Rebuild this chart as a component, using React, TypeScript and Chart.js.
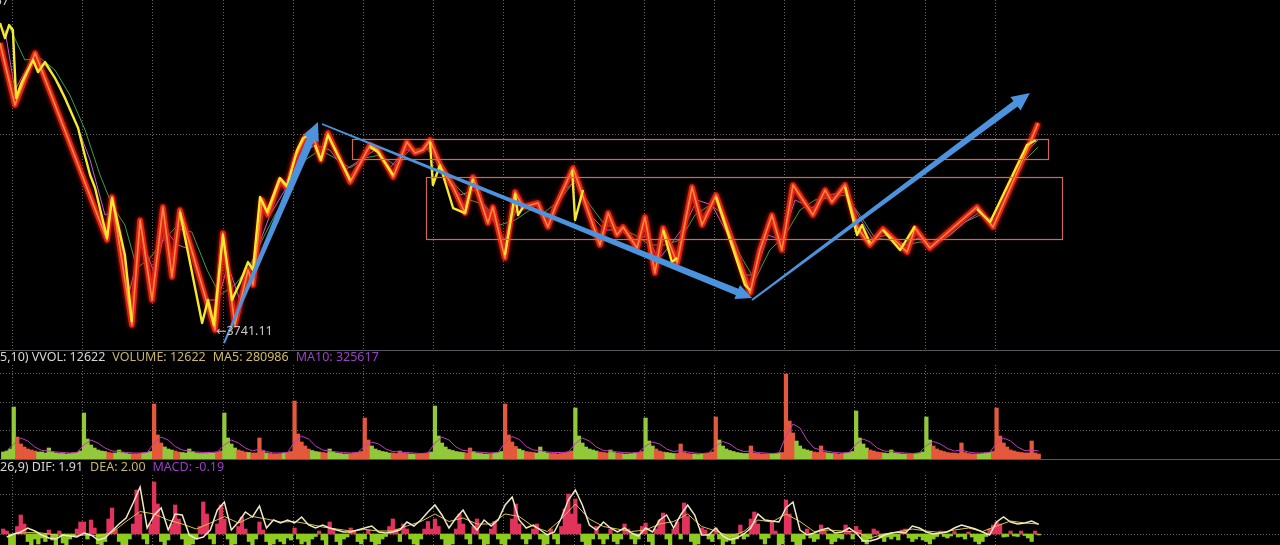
import React, { useEffect, useRef } from 'react';
import { Chart, registerables } from 'chart.js';

Chart.register(...registerables);

// ---------------- DATA ----------------
// x axis: trading minutes counted from the first day boundary (240 minutes per day)
const BAR_MINUTES = 12;
const X_MIN = -41;
const X_MAX = 4335;
const DAY_BOUNDARIES = [0, 240, 480, 720, 960, 1200, 1440, 1680, 1920, 2160, 2400, 2640, 2880, 3120, 3360];

// main price line (zig-zag of the index)
const priceMinutes = [-41, 10, 79, 325, 342, 410, 438, 479, 516, 547, 574, 694, 721, 762, 807, 824, 855, 875, 916, 940, 968, 1002, 1019, 1036, 1056, 1080, 1156, 1224, 1251, 1303, 1350, 1378, 1405, 1429, 1463, 1508, 1549, 1576, 1627, 1644, 1685, 1720, 1747, 1798, 1832, 1856, 1918, 2010, 2038, 2068, 2089, 2137, 2164, 2198, 2226, 2274, 2325, 2359, 2407, 2523, 2557, 2598, 2632, 2670, 2738, 2780, 2803, 2848, 2889, 2933, 2978, 3060, 3087, 3138, 3299, 3354, 3480, 3508];
const priceValues = [3884.6, 3853.6, 3879.6, 3786.1, 3807.6, 3743.6, 3796.1, 3756.1, 3802.6, 3767.6, 3801.1, 3741.1, 3789.6, 3743.6, 3771.1, 3763.6, 3806.1, 3798.6, 3816.1, 3812.1, 3827.1, 3837.6, 3839.6, 3835.1, 3826.1, 3839.6, 3815.1, 3833.6, 3831.1, 3817.6, 3835.1, 3829.6, 3831.1, 3836.1, 3823.6, 3812.6, 3799.6, 3817.6, 3794.6, 3802.6, 3777.1, 3810.1, 3802.6, 3804.6, 3792.6, 3802.1, 3822.1, 3783.6, 3799.6, 3788.6, 3792.6, 3782.1, 3797.6, 3769.6, 3792.1, 3774.6, 3812.6, 3793.6, 3808.6, 3759.6, 3781.1, 3798.6, 3781.1, 3813.6, 3798.6, 3811.1, 3805.1, 3813.6, 3792.6, 3783.6, 3791.6, 3780.1, 3792.1, 3782.1, 3802.6, 3792.6, 3834.6, 3844.6];

// yellow minute line (visible stretches; null = gap)
const yellowMinutes = [
  -41, -24, -10, 3, 14, 34, 72, 89, 113, 147, 181, 226, 246, 267, 284, 325, 342, 386, 410, 500,
  574, 650, 670, 690, 721, 752, 779, 807, 824, 848, 872, 916, 940, 975, 995, 1019, 1028,
  1036, 1056, 1080, 1156, 1190,
  1224, 1251, 1303, 1400,
  1429, 1439, 1463, 1508, 1549, 1576, 1650,
  1685, 1720, 1730, 1747, 1880,
  1915, 1925, 1952, 2200,
  2226, 2256, 2274, 2380,
  2407, 2506, 2523, 2700,
  2848, 2889, 2906, 2933, 2955,
  2978, 3036, 3087, 3200,
  3299, 3344, 3470, 3501,
];
const yellowValues = [
  3894.6, 3887.1, 3893.6, 3891.1, 3857.1, 3865.1, 3876.1, 3870.1, 3875.1, 3867.1, 3857.1, 3842.1, 3830.1, 3818.6, 3812.1, 3787.1, 3807.1, 3778.6, 3745.1, null,
  3800.1, 3744.6, 3756.1, 3743.6, 3788.6, 3756.1, 3764.6, 3775.1, 3771.1, 3807.6, 3800.1, 3817.1, 3813.1, 3831.1, 3837.1, 3838.6, null,
  3833.6, 3826.1, 3838.6, 3816.1, null,
  3832.6, 3830.1, 3818.6, null,
  3835.1, 3813.6, 3823.6, 3802.1, 3799.6, 3816.6, null,
  3778.6, 3809.1, 3798.6, 3802.6, null,
  3821.1, 3796.1, 3811.1, null,
  3791.1, 3775.1, 3777.1, null,
  3807.6, 3763.6, 3761.1, null,
  3812.6, 3788.6, 3793.6, 3784.6, null,
  3791.1, 3781.1, 3793.1, null,
  3801.6, 3795.1, 3833.6, 3836.1,
];

// moving averages of the price
const maGreenMinutes = [-7, 44, 96, 147, 198, 250, 301, 342, 386, 427, 472, 513, 557, 615, 667, 711, 762, 814, 855, 899, 950, 1002, 1053, 1104, 1156, 1207, 1258, 1309, 1361, 1412, 1463, 1515, 1566, 1617, 1668, 1720, 1771, 1822, 1873, 1925, 1976, 2027, 2079, 2130, 2181, 2232, 2284, 2335, 2386, 2438, 2489, 2540, 2591, 2643, 2694, 2745, 2797, 2848, 2899, 2950, 3002, 3053, 3104, 3156, 3207, 3258, 3309, 3361, 3412, 3463, 3508];
const maGreenValues = [3892.1, 3876.1, 3877.1, 3871.1, 3858.6, 3841.1, 3818.6, 3803.6, 3793.6, 3772.1, 3777.1, 3785.1, 3792.1, 3790.1, 3771.1, 3758.6, 3763.6, 3773.6, 3786.1, 3798.6, 3811.1, 3826.1, 3831.1, 3827.1, 3822.1, 3827.1, 3828.6, 3823.6, 3831.1, 3832.1, 3826.1, 3813.6, 3806.1, 3803.6, 3793.6, 3796.1, 3801.1, 3800.1, 3806.1, 3816.1, 3803.6, 3793.6, 3792.1, 3788.6, 3783.6, 3783.6, 3786.1, 3798.6, 3803.6, 3798.6, 3778.6, 3766.1, 3781.1, 3788.6, 3801.1, 3806.1, 3807.1, 3808.6, 3798.6, 3787.1, 3786.1, 3783.6, 3785.1, 3783.6, 3788.6, 3795.1, 3798.6, 3796.1, 3811.1, 3826.1, 3832.6];
const maPurpleMinutes = [-24, 10, 62, 113, 164, 215, 267, 318, 352, 403, 444, 489, 523, 568, 615, 660, 704, 738, 779, 831, 882, 933, 985, 1036, 1087, 1138, 1190, 1241, 1292, 1344, 1395, 1436, 1480, 1532, 1583, 1634, 1685, 1730, 1788, 1839, 1891, 1935, 1976, 2027, 2079, 2130, 2174, 2209, 2250, 2301, 2342, 2393, 2448, 2506, 2540, 2585, 2632, 2677, 2735, 2790, 2848, 2892, 2940, 2995, 3053, 3097, 3145, 3207, 3258, 3309, 3361, 3419, 3474, 3508];
const maPurpleValues = [3891.1, 3861.1, 3875.1, 3873.6, 3863.6, 3846.1, 3826.1, 3798.6, 3801.1, 3761.1, 3786.1, 3768.6, 3791.1, 3783.6, 3781.1, 3756.1, 3756.1, 3773.6, 3756.1, 3778.6, 3798.6, 3811.1, 3828.6, 3833.6, 3831.1, 3821.1, 3826.1, 3831.1, 3822.1, 3831.1, 3831.1, 3832.1, 3818.6, 3808.6, 3811.1, 3798.6, 3786.1, 3803.6, 3801.1, 3797.1, 3811.1, 3817.1, 3798.6, 3791.1, 3791.1, 3786.1, 3788.6, 3776.1, 3783.6, 3793.6, 3806.1, 3803.6, 3788.6, 3768.6, 3768.6, 3788.6, 3786.1, 3806.1, 3802.1, 3808.6, 3810.1, 3798.6, 3787.1, 3788.6, 3783.6, 3787.1, 3784.1, 3788.6, 3795.1, 3800.1, 3795.1, 3816.1, 3831.1, 3836.1];

const PRICE_MIN = 3731.11;
const PRICE_MAX = 3906.11;
const priceGridValues = [3839.1];
const lowMinute = 694;
const lowPrice = 3741.11;
const lowLabel = '←3741.11';
const highLabel = '3894.57';

// drawn annotations (in data units)
const rectStartMinutes = [1162, 1415];
const rectEndMinutes = [3542, 3590];
const rectTopPrices = [3836.6, 3817.6];
const rectBottomPrices = [3826.6, 3786.6];
const arrowTailMinutes = [725, 1060, 2530];
const arrowTailPrices = [3734.6, 3844.1, 3756.1];
const arrowHeadMinutes = [1046, 2530, 3480];
const arrowHeadPrices = [3845.1, 3757.1, 3859.6];

// volume, 12-minute bars, unit 10k; first value is bar index -3 (end of previous day)
const VOL_FIRST_BAR = -3;
const volume = [
  14, 16, 20,
  104, 44, 30, 24, 20, 18, 16, 14, 14, 12, 22, 14, 12, 11, 11, 10, 11, 12, 13, 16,
  92, 40, 28, 22, 18, 16, 15, 13, 12, 12, 18, 13, 11, 10, 10, 10, 11, 12, 13, 15,
  110, 48, 32, 24, 20, 18, 16, 14, 13, 12, 20, 14, 12, 11, 11, 11, 12, 12, 14, 16,
  92, 42, 30, 22, 18, 16, 14, 13, 12, 12, 42, 16, 12, 11, 10, 10, 11, 12, 13, 15,
  116, 50, 34, 26, 20, 17, 15, 14, 13, 12, 20, 14, 12, 11, 10, 10, 11, 12, 13, 15,
  82, 38, 26, 20, 17, 15, 14, 12, 12, 11, 16, 12, 11, 10, 10, 10, 10, 11, 12, 14,
  106, 46, 32, 24, 19, 17, 15, 14, 13, 12, 22, 14, 12, 11, 10, 10, 11, 12, 13, 15,
  110, 48, 34, 25, 20, 17, 15, 14, 13, 12, 24, 14, 12, 11, 11, 10, 11, 12, 14, 16,
  102, 46, 32, 24, 20, 18, 16, 14, 13, 12, 18, 13, 12, 11, 10, 10, 11, 12, 13, 15,
  82, 36, 26, 20, 16, 14, 13, 12, 11, 11, 30, 13, 11, 10, 10, 9, 10, 11, 12, 14,
  84, 38, 26, 20, 17, 15, 13, 12, 11, 11, 26, 12, 11, 10, 10, 10, 10, 11, 12, 13,
  170, 76, 52, 36, 26, 20, 18, 16, 14, 13, 26, 14, 12, 11, 11, 10, 11, 12, 13, 15,
  96, 42, 30, 22, 18, 16, 14, 13, 12, 11, 18, 12, 11, 10, 10, 10, 10, 11, 12, 14,
  84, 38, 26, 20, 17, 15, 13, 12, 12, 11, 32, 13, 11, 10, 10, 10, 11, 12, 13, 15,
  102, 46, 32, 24, 18, 16, 14, 13, 12, 12, 36, 12, 10,
];
// volume moving average, every second bar, first value at bar -2
const VOLMA_FIRST_BAR = -2;
const volumeMA = [
  16,
  30, 42, 36, 24, 17, 16, 14, 13, 12, 13,
  28, 38, 32, 22, 16, 15, 13, 12, 12, 13,
  32, 44, 38, 25, 18, 16, 14, 13, 13, 14,
  28, 38, 32, 22, 16, 20, 15, 12, 12, 13,
  34, 46, 40, 26, 18, 16, 14, 13, 12, 13,
  26, 34, 30, 20, 15, 14, 13, 12, 11, 12,
  32, 44, 38, 24, 17, 16, 14, 13, 12, 13,
  33, 45, 39, 25, 18, 17, 14, 13, 13, 14,
  31, 42, 36, 24, 17, 16, 14, 13, 12, 13,
  26, 34, 30, 20, 15, 17, 14, 12, 11, 12,
  26, 35, 30, 20, 15, 16, 13, 12, 11, 12,
  46, 70, 62, 38, 22, 18, 15, 13, 12, 13,
  30, 40, 34, 22, 16, 15, 13, 12, 11, 12,
  27, 35, 30, 21, 16, 18, 14, 12, 12, 13,
  32, 42, 36, 24, 17, 18, 16,
];
const VOL_MAX = 188;
const volGridValues = [58, 114, 172];

// MACD histogram per 12-minute bar, first value at bar -3
const MACD_FIRST_BAR = -3;
const macdHist = [
  1.0, 0.6, -2.5,
  -2.5, 1.5, 3.8, 2.0, -1.5, -2.5, -1.0, -2.0, -0.8, -1.5, 0.8, -1.2, -2.5, 0.6, -1.8, -2.5, -1.0, -0.5, 1.0, 2.4,
  2.4, -1.0, 2.8, 1.2, -2.0, -2.5, -1.5, 3.0, 5.2, 1.0, -1.5, -2.5, -2.8, -1.0, 2.0, 8.8, 4.0, -1.0, -2.0, 2.0,
  10.4, 6.0, -1.5, -2.5, -1.2, 2.0, 5.8, 3.0, -1.0, -2.5, -2.8, -2.0, -1.0, 1.5, 6.4, 4.0, -1.0, -2.0, 2.0, 5.8,
  3.0, -1.0, -2.5, -2.0, 1.5, 3.4, 1.0, -1.5, -2.5, -1.0, 2.4, 0.8, -1.5, -2.5, -2.0, -1.0, -1.5, -2.0, -0.8, -1.2,
  1.2, -1.0, -2.0, -1.5, -2.5, -1.0, -0.5, 0.6, -1.2, -2.2, 2.4, 1.0, -1.5, -2.5, -1.0, -0.6, 1.2, 0.5, -1.5, -2.0,
  -1.0, 0.8, -1.5, -2.5, -2.0, -1.0, -0.5, 1.5, 3.0, 1.0, -1.5, 2.0, 1.0, -1.0, -2.0, -2.5, -1.0, 1.0, 2.5, 1.0,
  3.0, 1.5, -1.0, -2.5, -3.0, -2.0, 1.0, 4.0, 2.0, -1.0, -2.0, 1.5, 3.0, -1.0, -2.5, -2.0, 1.0, 2.5, -1.0, -2.0,
  -2.5, -1.0, 3.0, 6.0, 2.0, -1.0, -2.0, -1.0, 1.0, 2.0, -1.0, -2.5, -2.0, 1.0, -1.0, -2.0, 1.5, 5.0, 8.0, 4.0,
  7.0, 2.0, -1.5, -3.0, -2.5, -1.0, 1.5, -1.0, -2.0, -1.0, 1.0, -1.5, -2.0, -1.0, 2.0, 1.0, -1.0, -2.0, -1.0, 1.5,
  2.2, -1.5, -2.5, 1.0, 2.8, 4.2, -1.0, -2.5, 1.0, 2.4, -1.0, 6.2, 3.5, -1.5, -2.5, -2.0, 1.2, 0.8, -1.0, -1.5,
  1.2, -1.0, -2.5, -1.5, -1.0, -2.0, -1.0, 1.8, -1.0, -0.5, 3.0, 4.4, 2.0, -1.0, -2.0, -0.8, 2.4, 0.6, -2.5, -2.0,
  6.8, 4.0, -1.5, -3.0, -2.5, -1.0, 1.0, -0.8, -1.5, -1.0, 1.8, 0.6, -1.0, -2.0, -1.5, -0.8, -1.0, 1.8, 0.6, -1.0,
  1.5, 0.8, -1.5, -2.0, -1.0, 1.0, 0.6, -0.8, -1.5, -0.6, -1.0, -0.5, -1.2, 0.8, 1.0, -0.8, -1.5, -1.0, -0.5, -1.2,
  -1.5, -2.0, -1.0, -0.5, 0.6, -0.5, -0.8, -0.4, 0.5, -0.6, -0.5, -1.0, 0.4, -0.6, -1.5, -2.0, -1.5, -0.5, 1.0, 1.8,
  2.4, 2.0, -0.6, -0.5, 0.6, -0.4, -0.5, 0.6, -0.3, -0.8, -1.5, 0.6, -0.2,
];
// DIF every second bar from bar -2; DEA every fourth bar from bar 0
const DIF_FIRST_BAR = -2;
const difValues = [
  -0.6,
  0.0, 0.4, 1.2, 0.6, -0.2, -0.8, -1.0, -0.2, -0.4, -0.6,
  0.2, -0.2, -1.2, -0.8, 0.6, 2.0, 3.2, 6.2, 9.4, 1.2,
  3.8, 5.2, 0.8, 4.0, 3.8, -0.2, -1.0, -0.6, 0.8, 4.8,
  6.4, 0.8, 2.4, 4.4, 3.4, 5.6, 1.2, 2.8, 2.2, 2.8,
  2.2, 3.4, 1.8, 1.2, 1.8, 1.2, 0.8, 0.4, 0.4, 0.8,
  1.2, 1.6, 0.4, 0.2, 0.4, 0.8, 2.4, 1.6, 2.8, 4.4,
  5.8, 3.8, 1.2, 3.2, 4.8, 2.4, 0.8, 2.8, 1.6, 2.8,
  5.8, 7.4, 2.8, 1.2, 1.8, 0.8, -0.2, 0.4, 3.2, 6.8,
  8.8, 5.8, 1.8, 0.8, 2.4, 1.2, 0.4, 1.2, 0.2, -0.4,
  1.2, 0.4, 2.8, 3.8, 1.2, 3.8, 5.8, 3.8, -0.2, -0.2,
  1.2, -0.4, -1.2, -0.8, 0.0, 1.2, 4.0, 2.8, 2.6, 2.4,
  5.2, 6.4, 0.8, -0.2, 0.2, 0.8, 1.2, 0.2, 0.4, 1.2,
  0.2, -1.4, -1.4, -1.0, -0.2, 0.2, 0.4, 0.2, 1.6, 1.2,
  0.4, 0.0, 0.2, 0.4, 1.2, 1.8, 1.4, 1.0, 0.4, -0.2,
  2.4, 3.4, 2.4, 2.0, 2.2, 2.6, 1.91,
];
const DEA_FIRST_BAR = 0;
const deaValues = [
  0.0, 0.3, 0.2, -0.2, -0.3,
  -0.2, -0.4, 0.3, 2.5, 4.5,
  4.0, 2.8, 2.0, 1.0, 2.2,
  3.5, 2.2, 3.5, 3.0, 2.4,
  2.5, 2.0, 1.4, 1.0, 0.6,
  0.9, 0.6, 0.6, 1.6, 2.5,
  4.0, 2.5, 3.2, 2.0, 2.0,
  4.0, 3.5, 1.5, 0.5, 3.0,
  6.0, 3.0, 1.5, 1.0, 0.5,
  0.8, 2.0, 2.5, 4.0, 1.5,
  0.6, -0.5, 0.5, 2.8, 2.4,
  4.0, 2.5, 0.5, 0.8, 0.6,
  0.4, -0.8, 0.0, 0.4, 1.0,
  0.6, 0.3, 0.8, 1.2, 0.5,
  1.6, 2.6, 2.2, 2.0,
];
const MACD_MIN = -2.2;
const MACD_MAX = 11.8;
const macdGridValues = [0, 8];

// ---------------- STYLE ----------------
const GRID_COLOR = 'rgba(120,120,120,0.85)';
const SEP_COLOR = '#55565c';
const RECT_COLOR = '#d0665c';
const ARROW_COLOR = '#4c93de';
const arrowTailWidths = [2, 1.5, 2];
const arrowShaftWidths = [8, 7, 7];
const arrowHeadWidths = [17, 15, 17];
const arrowHeadLengths = [18, 16, 18];
const FONT = '"Noto Sans", "DejaVu Sans", sans-serif';

// ---------------- HELPERS ----------------
function zip(xs: number[], ys: (number | null)[]) {
  const n = Math.min(xs.length, ys.length);
  const out: { x: number; y: number | null }[] = [];
  for (let i = 0; i < n; i++) out.push({ x: xs[i], y: ys[i] });
  return out;
}
function series(values: number[], firstBar: number, step: number) {
  return values.map((v, i) => ({ x: (firstBar + i * step) * BAR_MINUTES + BAR_MINUTES / 2, y: v }));
}
function interp(xs: number[], ys: number[], x: number) {
  if (x <= xs[0]) return ys[0];
  for (let i = 1; i < xs.length; i++) {
    if (x <= xs[i]) {
      const t = (x - xs[i - 1]) / (xs[i] - xs[i - 1]);
      return ys[i - 1] + t * (ys[i] - ys[i - 1]);
    }
  }
  return ys[ys.length - 1];
}

function drawGrid(chart: any, hValues: number[]) {
  const { ctx, chartArea, scales } = chart;
  const x = scales.x;
  const y = scales.y;
  ctx.save();
  ctx.strokeStyle = GRID_COLOR;
  ctx.lineWidth = 1;
  ctx.setLineDash([1, 2]);
  for (const m of DAY_BOUNDARIES) {
    const px = Math.round(x.getPixelForValue(m)) + 0.5;
    ctx.beginPath();
    ctx.moveTo(px, chartArea.top);
    ctx.lineTo(px, chartArea.bottom);
    ctx.stroke();
  }
  for (const v of hValues) {
    const py = Math.round(y.getPixelForValue(v)) + 0.5;
    ctx.beginPath();
    ctx.moveTo(chartArea.left, py);
    ctx.lineTo(chartArea.right, py);
    ctx.stroke();
  }
  ctx.restore();
}

function drawArrow(ctx: CanvasRenderingContext2D, tx: number, ty: number, hx: number, hy: number,
  tailW: number, shaftW: number, headW: number, headL: number) {
  const dx = hx - tx;
  const dy = hy - ty;
  const len = Math.hypot(dx, dy);
  const ux = dx / len, uy = dy / len;
  const nx = -uy, ny = ux;
  const bx = hx - ux * headL, by = hy - uy * headL;
  ctx.beginPath();
  ctx.moveTo(tx + nx * tailW / 2, ty + ny * tailW / 2);
  ctx.lineTo(bx + nx * shaftW / 2, by + ny * shaftW / 2);
  ctx.lineTo(bx + nx * headW / 2, by + ny * headW / 2);
  ctx.lineTo(hx, hy);
  ctx.lineTo(bx - nx * headW / 2, by - ny * headW / 2);
  ctx.lineTo(bx - nx * shaftW / 2, by - ny * shaftW / 2);
  ctx.lineTo(tx - nx * tailW / 2, ty - ny * tailW / 2);
  ctx.closePath();
  ctx.fill();
}

const mainPlugin = {
  id: 'mainOverlay',
  beforeDatasetsDraw(chart: any) {
    drawGrid(chart, priceGridValues);
  },
  beforeDatasetDraw(chart: any, args: any) {
    if (args.meta && args.meta.label === 'price') {
      chart.ctx.save();
      chart.ctx.shadowColor = 'rgba(255,30,0,0.8)';
      chart.ctx.shadowBlur = 4;
    }
  },
  afterDatasetDraw(chart: any, args: any) {
    if (args.meta && args.meta.label === 'price') chart.ctx.restore();
  },
  afterDatasetsDraw(chart: any) {
    const { ctx, chartArea, scales } = chart;
    const x = scales.x, y = scales.y;
    ctx.save();
    ctx.strokeStyle = RECT_COLOR;
    ctx.lineWidth = 1.2;
    for (let i = 0; i < rectStartMinutes.length; i++) {
      const x0 = x.getPixelForValue(rectStartMinutes[i]);
      const x1 = x.getPixelForValue(rectEndMinutes[i]);
      const y0 = y.getPixelForValue(rectTopPrices[i]);
      const y1 = y.getPixelForValue(rectBottomPrices[i]);
      ctx.strokeRect(Math.round(x0) + 0.5, Math.round(y0) + 0.5, Math.round(x1 - x0), Math.round(y1 - y0));
    }
    ctx.fillStyle = ARROW_COLOR;
    for (let i = 0; i < arrowTailMinutes.length; i++) {
      drawArrow(ctx,
        x.getPixelForValue(arrowTailMinutes[i]), y.getPixelForValue(arrowTailPrices[i]),
        x.getPixelForValue(arrowHeadMinutes[i]), y.getPixelForValue(arrowHeadPrices[i]),
        arrowTailWidths[i], arrowShaftWidths[i], arrowHeadWidths[i], arrowHeadLengths[i]);
    }
    ctx.fillStyle = '#c9c9c9';
    ctx.font = '12.5px ' + FONT;
    ctx.textBaseline = 'middle';
    ctx.textAlign = 'left';
    ctx.fillText(lowLabel, x.getPixelForValue(lowMinute) + 1, y.getPixelForValue(lowPrice) + 1);
    ctx.textAlign = 'right';
    ctx.fillText(highLabel, chartArea.left + 9, chartArea.top + 1);
    ctx.restore();
  },
};

const volPlugin = {
  id: 'volOverlay',
  beforeDatasetsDraw(chart: any) {
    drawGrid(chart, volGridValues);
  },
};
const macdPlugin = {
  id: 'macdOverlay',
  beforeDatasetsDraw(chart: any) {
    drawGrid(chart, macdGridValues);
  },
};

function baseOptions(yMin: number, yMax: number) {
  return {
    responsive: false,
    maintainAspectRatio: false,
    animation: false as const,
    devicePixelRatio: 1,
    events: [] as any[],
    layout: { padding: 0 },
    plugins: { legend: { display: false }, tooltip: { enabled: false }, title: { display: false } },
    elements: { point: { radius: 0 }, line: { tension: 0 } },
    scales: {
      x: { type: 'linear' as const, min: X_MIN, max: X_MAX, display: false, offset: false },
      y: { type: 'linear' as const, min: yMin, max: yMax, display: false },
    },
  };
}

export default function App() {
  const mainRef = useRef<HTMLCanvasElement>(null);
  const volRef = useRef<HTMLCanvasElement>(null);
  const macdRef = useRef<HTMLCanvasElement>(null);

  useEffect(() => {
    const charts: Chart[] = [];
    const redPts = zip(priceMinutes, priceValues);

    charts.push(new Chart(mainRef.current as HTMLCanvasElement, {
      type: 'line',
      data: {
        datasets: [
          { label: 'yellow', data: zip(yellowMinutes, yellowValues), borderColor: '#f5e92c', borderWidth: 2.4, order: 1, pointRadius: 0, borderJoinStyle: 'round', spanGaps: false },
          { label: 'core', data: redPts, borderColor: 'rgba(255,150,60,0.9)', borderWidth: 1.6, order: 2, pointRadius: 0, borderJoinStyle: 'round' },
          { label: 'price', data: redPts, borderColor: '#e2231a', borderWidth: 5.5, order: 3, pointRadius: 0, borderJoinStyle: 'round' },
          { label: 'maPurple', data: zip(maPurpleMinutes, maPurpleValues), borderColor: '#c060d8', borderWidth: 1, order: 4, pointRadius: 0 },
          { label: 'maGreen', data: zip(maGreenMinutes, maGreenValues), borderColor: '#3e9e46', borderWidth: 1, order: 5, pointRadius: 0 },
        ],
      } as any,
      options: baseOptions(PRICE_MIN, PRICE_MAX) as any,
      plugins: [mainPlugin],
    }));

    const volPts = series(volume, VOL_FIRST_BAR, 1);
    const volColors = volPts.map((p) => {
      const start = p.x - BAR_MINUTES / 2;
      const up = interp(priceMinutes, priceValues, start + BAR_MINUTES) >= interp(priceMinutes, priceValues, start);
      return up ? '#e4583c' : '#93c83a';
    });
    charts.push(new Chart(volRef.current as HTMLCanvasElement, {
      type: 'bar',
      data: {
        datasets: [
          { type: 'line', label: 'volMA', data: series(volumeMA, VOLMA_FIRST_BAR, 2), borderColor: '#c23bc0', borderWidth: 1, order: 0, pointRadius: 0 },
          { type: 'bar', label: 'volume', data: volPts, backgroundColor: volColors, borderWidth: 0, barThickness: 3.6, grouped: false, order: 1 },
        ],
      } as any,
      options: baseOptions(0, VOL_MAX) as any,
      plugins: [volPlugin],
    }));

    const histPts = series(macdHist, MACD_FIRST_BAR, 1);
    charts.push(new Chart(macdRef.current as HTMLCanvasElement, {
      type: 'bar',
      data: {
        datasets: [
          { type: 'line', label: 'DIF', data: series(difValues, DIF_FIRST_BAR, 2), borderColor: '#f1e9c4', borderWidth: 1.5, order: 0, pointRadius: 0 },
          { type: 'line', label: 'DEA', data: series(deaValues, DEA_FIRST_BAR, 4), borderColor: '#d6c24a', borderWidth: 1, order: 1, pointRadius: 0 },
          { type: 'bar', label: 'MACD', data: histPts, backgroundColor: histPts.map((p) => (p.y >= 0 ? '#e2335c' : '#8dcb1f')), borderWidth: 0, barThickness: 3.6, grouped: false, order: 2 },
        ],
      } as any,
      options: baseOptions(MACD_MIN, MACD_MAX) as any,
      plugins: [macdPlugin],
    }));

    return () => charts.forEach((c) => c.destroy());
  }, []);

  const legendBase: React.CSSProperties = {
    position: 'absolute', left: 0, height: 14, lineHeight: '14px', fontFamily: FONT,
    fontSize: 12.5, whiteSpace: 'nowrap',
  };
  const gap = { marginLeft: 7 };

  return (
    <div style={{ position: 'fixed', left: 0, top: 0, width: 1280, height: 545, background: '#000', overflow: 'hidden' }}>
      <canvas ref={mainRef} width={1280} height={350} style={{ position: 'absolute', left: 0, top: 0, width: 1280, height: 350 }} />
      <div style={{ position: 'absolute', left: 0, top: 350, width: 1280, height: 1, background: SEP_COLOR }} />
      <div style={{ ...legendBase, top: 350 }}>
        <span style={{ color: '#d6d6d6' }}>5,10) VVOL: 12622</span>
        <span style={{ color: '#c8b66c', ...gap }}>VOLUME: 12622</span>
        <span style={{ color: '#d2bd62', ...gap }}>MA5: 280986</span>
        <span style={{ color: '#9a3fc4', ...gap }}>MA10: 325617</span>
      </div>
      <canvas ref={volRef} width={1280} height={94} style={{ position: 'absolute', left: 0, top: 365, width: 1280, height: 94 }} />
      <div style={{ position: 'absolute', left: 0, top: 459, width: 1280, height: 1, background: SEP_COLOR }} />
      <div style={{ ...legendBase, top: 460 }}>
        <span style={{ color: '#d6d6d6' }}>26,9) DIF: 1.91</span>
        <span style={{ color: '#c8b66c', ...gap }}>DEA: 2.00</span>
        <span style={{ color: '#9a3fc4', ...gap }}>MACD: -0.19</span>
      </div>
      <canvas ref={macdRef} width={1280} height={70} style={{ position: 'absolute', left: 0, top: 475, width: 1280, height: 70 }} />
    </div>
  );
}
